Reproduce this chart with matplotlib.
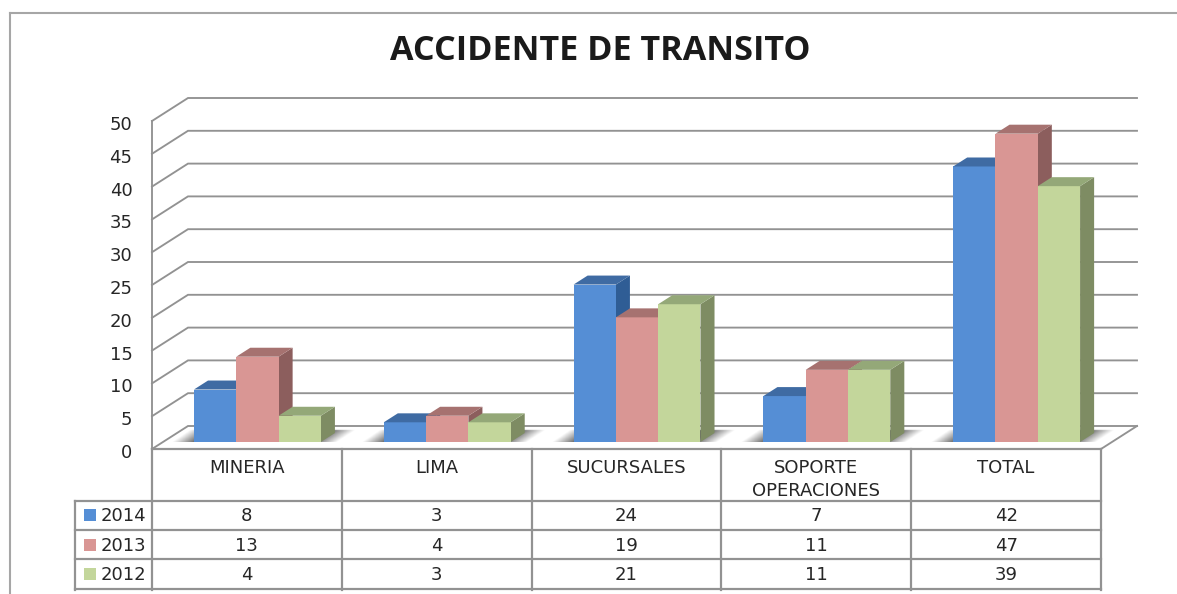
import numpy as np
import matplotlib
matplotlib.use("Agg")
import matplotlib.pyplot as plt
from matplotlib.lines import Line2D
from matplotlib.transforms import ScaledTranslation

W, H = 1177, 594
categories = ["MINERIA", "LIMA", "SUCURSALES", "SOPORTE\nOPERACIONES", "TOTAL"]
series_names = ["2014", "2013", "2012"]
v2014 = [8, 3, 24, 7, 42]
v2013 = [13, 4, 19, 11, 47]
v2012 = [4, 3, 21, 11, 39]
y_ticks = list(range(0, 55, 5))

series = [v2014, v2013, v2012]
front = ["#558ED5", "#D99694", "#C3D69B"]
top = ["#3F6BA3", "#A67270", "#94A878"]
side = ["#2F5D95", "#8C5E5D", "#7E8C63"]
GRID = "#929292"
TXT = "#262626"
FONT = "DejaVu Sans"

# pixel layout
LEFT, RIGHT, Y0, Y50 = 152, 1101, 449, 121
TBL_BOTTOM = 590
fig = plt.figure(figsize=(W / 100, H / 100), dpi=100, facecolor="white")
ax = fig.add_axes([LEFT / W, 1 - Y0 / H, (RIGHT - LEFT) / W, (Y0 - Y50) / H])
ax.set_xlim(0, len(categories))
ax.set_ylim(0, 50)
ax.patch.set_visible(False)

PXX = (RIGHT - LEFT) / len(categories)
PXY = (Y0 - Y50) / 50
DX, DY = 36 / PXX, 23 / PXY      # depth of the chart floor in data units
BAR_W = 42.3 / PXX
INSET = 31 / PXX
SHIFT = 0.305                    # bar start as share of floor depth
DEPTH = 0.39                     # bar depth as share of floor depth

# walls, grid
for v in y_ticks:
    ax.plot([0, DX, len(categories) + DX], [v, v + DY, v + DY], color=GRID, lw=1.35,
            clip_on=False, zorder=1, solid_joinstyle="miter")
ax.plot([len(categories), len(categories) + DX], [0, DY], color=GRID, lw=1.35, clip_on=False, zorder=1)
for s in ("top", "right", "bottom"):
    ax.spines[s].set_visible(False)
ax.spines["left"].set_color(GRID)
ax.spines["left"].set_linewidth(1.35)
ax.set_xticks([])
ax.set_yticks(y_ticks)
ax.tick_params(axis="y", length=0, pad=14, labelsize=13, labelcolor=TXT)
down = ScaledTranslation(0, -1.5 / 72, fig.dpi_scale_trans)
for t in ax.get_yticklabels():
    t.set_fontfamily(FONT)
    t.set_transform(t.get_transform() + down)

# floor shadows: a skewed soft-edged gradient
sy0, sy1 = (Y0 - 442.5) / PXY, (Y0 - 430) / PXY
SW = 240          # shadow image width, in samples
SH = 16           # shadow image height, in samples
for i in range(len(categories)):
    bx = i + INSET + SHIFT * DX
    ex = bx + 3 * BAR_W
    xl, xr = bx - 22 / PXX, ex + 36 / PXX
    u = np.linspace(0, 1, SW)[None, :]
    w = np.linspace(0, 1, SH)[:, None]      # 0 = far edge, 1 = near edge
    span = 58 / PXX + 3 * BAR_W
    left_edge = (1 - w) * (18 / PXX) / span
    right_edge = 1 - w * (19 / PXX) / span
    a = np.clip((u - left_edge) / 0.13, 0, 1) * np.clip((right_edge - u) / 0.13, 0, 1)
    a = a * np.clip(w / 0.08, 0, 1)
    img = np.zeros((SH, SW, 4))
    img[..., 3] = 0.62 * a
    ax.imshow(img, extent=[xl, xr, sy0, sy1], origin="upper", aspect="auto", zorder=2,
              interpolation="bilinear", clip_on=False)
ax.set_xlim(0, len(categories))
ax.set_ylim(0, 50)

# 3D bars
x0 = np.arange(len(categories)) + INSET + SHIFT * DX
base = SHIFT * DY
ddx, ddy = DEPTH * DX, DEPTH * DY
for i in range(len(categories)):
    for j, vals in enumerate(series):
        z = 3 + i + j * 0.1
        v = vals[i]
        xa = x0[i] + j * BAR_W
        xb = xa + BAR_W
        t = base + v
        ax.fill([xb, xb + ddx, xb + ddx, xb], [base, base + ddy, t + ddy, t],
                color=side[j], lw=0, zorder=z, clip_on=False)
        ax.bar(xa, v, BAR_W, bottom=base, align="edge", color=front[j], lw=0, zorder=z, clip_on=False)
        ax.fill([xa, xb, xb + ddx, xa + ddx], [t, t, t + ddy, t + ddy],
                color=top[j], lw=0, zorder=z, clip_on=False)

# data table
axt = fig.add_axes([LEFT / W, 1 - TBL_BOTTOM / H, (RIGHT - LEFT) / W, (TBL_BOTTOM - Y0) / H])
axt.set_xlim(0, len(categories))
axt.set_ylim(TBL_BOTTOM - Y0, 0)
axt.axis("off")
HEAD = 51.5
ROW = 29.4
n = len(categories)
LEG_L = (75 - LEFT) / PXX
tb = TBL_BOTTOM - Y0 - 0.5
kw = dict(color=GRID, lw=1.6, clip_on=False, solid_capstyle="projecting")
for i in range(n + 1):
    axt.plot([i, i], [0, tb], **kw)
axt.plot([0, n], [0, 0], **kw)
for r in range(len(series) + 1):
    axt.plot([LEG_L, n], [HEAD + r * ROW] * 2, **kw)
axt.plot([LEG_L, LEG_L], [HEAD, tb], **kw)

for i, c in enumerate(categories):
    for k, line in enumerate(c.split("\n")):
        axt.text(i + 0.5, 19 + k * 23, line, ha="center", va="center", fontsize=13,
                 color=TXT, family=FONT)
for r, (name, vals) in enumerate(zip(series_names, series)):
    yc = HEAD + (r + 0.5) * ROW
    for i, v in enumerate(vals):
        axt.text(i + 0.5, yc + 1, str(v), ha="center", va="center", fontsize=13, color=TXT, family=FONT)
    axt.add_patch(plt.Rectangle((LEG_L + 9 / PXX, yc - 6), 12 / PXX, 12, color=front[r], lw=0, clip_on=False))
    axt.text(LEG_L + 26 / PXX, yc + 1, name, ha="left", va="center", fontsize=13, color=TXT, family=FONT)

# outer frame
FC = "#A6A6A6"
fig.add_artist(Line2D([10 / W, 10 / W], [0, 1 - 13 / H], color=FC, lw=1.5, solid_capstyle="projecting"))
fig.add_artist(Line2D([10 / W, 1], [1 - 13 / H, 1 - 13 / H], color=FC, lw=1.5))

fig.text(600 / W, 1 - 51 / H, "ACCIDENTE DE TRANSITO", ha="center", va="center",
         fontsize=24.6, fontweight="bold", color="#1a1a1a", family="Open Sans")

fig.savefig("out.png", dpi=100, facecolor="white")
